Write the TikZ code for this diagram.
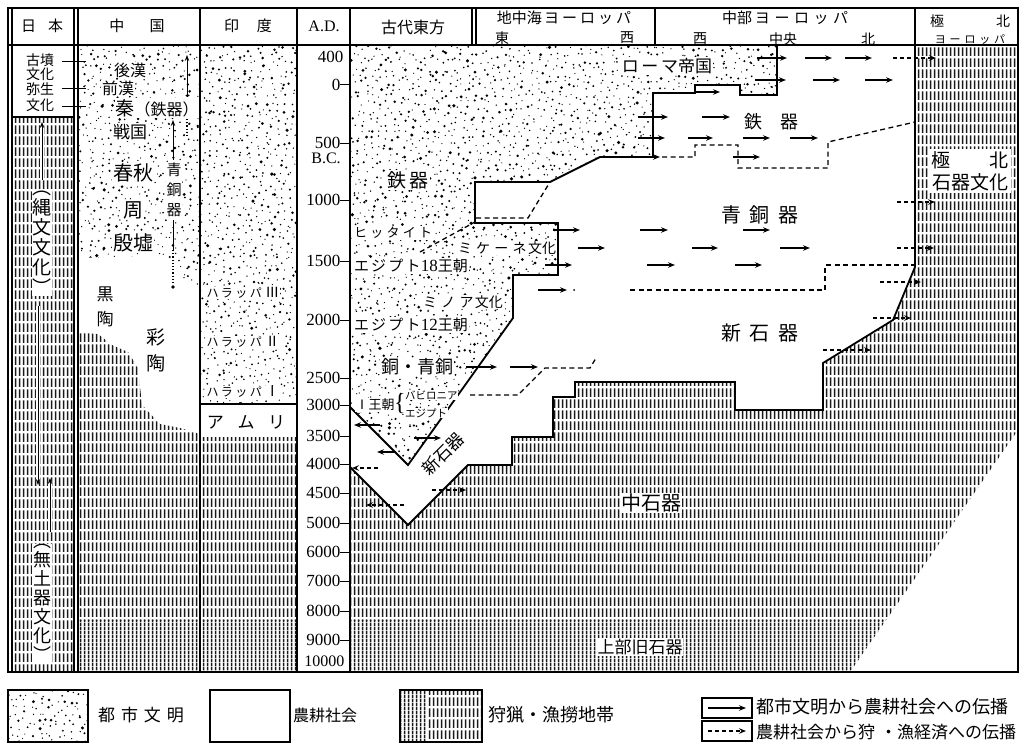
\documentclass[tikz,border=0pt]{standalone}
\usepackage{fontspec}
\setmainfont{Liberation Serif}
\newfontfamily\jp{Noto Sans CJK JP}
\usetikzlibrary{patterns,arrows.meta}
\pgfdeclarepatternformonly{jhatch}{\pgfqpoint{0pt}{0pt}}{\pgfqpoint{3.6pt}{11pt}}{\pgfqpoint{3.6pt}{11pt}}{%
  \pgfsetlinewidth{1.7pt}\pgfsetbuttcap
  \pgfpathmoveto{\pgfqpoint{1.8pt}{0pt}}\pgfpathlineto{\pgfqpoint{1.8pt}{9.3pt}}\pgfusepath{stroke}}
\pgfdeclarepatternformonly{vhatch}{\pgfqpoint{0pt}{0pt}}{\pgfqpoint{3.6pt}{4pt}}{\pgfqpoint{3.6pt}{4pt}}{%
  \pgfsetlinewidth{1.7pt}\pgfsetbuttcap
  \pgfpathmoveto{\pgfqpoint{1.8pt}{0pt}}\pgfpathlineto{\pgfqpoint{1.8pt}{4pt}}\pgfusepath{stroke}}
\newcommand\fsz[2]{\fontsize{#1}{#2}\selectfont}
\newcommand\stipple[4]{%
  \pgfmathtruncatemacro\stipNX{(#3-#1)/6.8}%
  \pgfmathtruncatemacro\stipNY{(#4-#2)/6.8}%
  \foreach \stipI in {0,...,\stipNX}{%
    \foreach \stipJ in {0,...,\stipNY}{%
      \pgfmathsetmacro\stipX{#1+6.8*\stipI+6.8*rnd}%
      \pgfmathsetmacro\stipY{#2+6.8*\stipJ+6.8*rnd}%
      \pgfmathsetmacro\stipR{0.6+1.25*rnd*rnd}%
      \fill (\stipX,\stipY) circle[radius=\stipR pt];}}}
\begin{document}
\begin{tikzpicture}[x=1pt,y=-1pt,
  jt/.style={font=\jp, inner sep=0.8pt},
  wt/.style={jt, fill=white},
  bd/.style={line width=1.8pt, line join=miter},
  dbd/.style={line width=1.3pt, dash pattern=on 5pt off 3.5pt},
  sp/.style={line width=1.2pt, -{Stealth[length=7pt,width=5.5pt,inset=2.5pt]}},
  dsp/.style={sp, dash pattern=on 4pt off 3pt},
  varr/.style={line width=1pt, -{Stealth[length=6pt,width=4.5pt,inset=2pt]}},
  halo/.style={preaction={draw=white, line width=4pt}},
  hp/.style={pattern color=black!90}]
\useasboundingbox (0,0) rectangle (1024,749);
\pgfmathsetseed{4321}

% ---------- hatched areas ----------
\fill[pattern=jhatch,hp] (12,117) rectangle (74,672);
\begin{scope}
  \clip (78,332) -- (98,334) -- (112,345) -- (128,352) -- (138,368) -- (142,405) -- (160,424) -- (180,428) -- (200,434) -- (200,672) -- (78,672) -- cycle;
  \fill[pattern=jhatch,hp] (70,320) rectangle (205,620);
  \fill[pattern=vhatch,hp] (70,620) rectangle (205,675);
\end{scope}
\fill[pattern=jhatch,hp] (200,437) rectangle (297,620);
\fill[pattern=vhatch,hp] (200,620) rectangle (297,672);
\begin{scope}
  \clip (350,467) -- (408,525) -- (468,465) -- (512,465) -- (512,437) -- (553,437) -- (553,397) -- (575,397) -- (575,382) -- (735,382) -- (735,410) -- (823,410) -- (823,363) -- (893,320) -- (915,267) -- (915,45) -- (1018,45) -- (1018,430) -- (850,672) -- (350,672) -- cycle;
  \fill[pattern=jhatch,hp] (340,40) rectangle (1020,620);
  \fill[pattern=vhatch,hp] (340,620) rectangle (1020,675);
\end{scope}

% ---------- stippled areas ----------
\begin{scope}
  \clip (79,45) -- (200,45) -- (200,292) -- (185,280) -- (172,262) -- (160,256) -- (79,258) -- cycle;
  \stipple{79}{45}{200}{292}
\end{scope}
\begin{scope}
  \clip (200,45) rectangle (297,404);
  \stipple{200}{45}{297}{404}
\end{scope}
\begin{scope}
  \clip (350,45) -- (777,45) -- (777,95) -- (740,95) -- (740,85) -- (695,85) -- (695,93) -- (653,93) -- (653,157) -- (600,157) -- (550,182) -- (475,182) -- (475,223) -- (558,223) -- (558,275) -- (513,275) -- (513,318) -- (408,465) -- (350,407) -- cycle;
  \stipple{350}{45}{777}{468}
\end{scope}

% ---------- frame and columns ----------
\draw[line width=2.2pt] (8,8) rectangle (1018,672);
\draw[line width=1.6pt] (8,45) -- (1018,45);
\draw[line width=1.1pt] (12,8) -- (12,672);
\draw[line width=1.4pt] (74,8) -- (74,672) (78,8) -- (78,672);
\draw[line width=1.4pt] (200,8) -- (200,672);
\draw[line width=1.4pt] (297,8) -- (297,672);
\draw[line width=1.4pt] (350,8) -- (350,672);
\draw[line width=1.2pt] (472,8) -- (472,45) (476,8) -- (476,45);
\draw[line width=1.4pt] (655,8) -- (655,45);
\draw[line width=1.4pt] (915,8) -- (915,45);
\draw[line width=1.4pt] (12,117) -- (74,117);
\draw[line width=1.4pt] (200,404) -- (297,404);

% ---------- region boundaries ----------
\draw[bd] (777,45) -- (777,95) -- (740,95) -- (740,85) -- (695,85) -- (695,93) -- (653,93) -- (653,157) -- (600,157) -- (550,182) -- (475,182) -- (475,223) -- (558,223) -- (558,275) -- (513,275) -- (513,318) -- (408,465) -- (350,407);
\draw[bd] (350,467) -- (408,525) -- (468,465) -- (512,465) -- (512,437) -- (553,437) -- (553,397) -- (575,397) -- (575,382) -- (735,382) -- (735,410) -- (823,410) -- (823,363) -- (893,320) -- (915,267) -- (915,45);

% dashed period boundaries
\draw[dbd] (420,252) -- (475,222);
\draw[dbd] (476,218) -- (528,218) -- (550,182);
\draw[dbd] (662,157) -- (695,157) -- (695,145) -- (738,145) -- (738,168) -- (828,168) -- (828,142) -- (915,122);
\draw[dbd] (630,290) -- (825,290) -- (825,265) -- (915,265);
\draw[dbd] (470,395) -- (518,395) -- (545,368) -- (590,368) -- (596,358);

% ---------- A.D. / B.C. scale ----------
\foreach \ty in {85,143,200,261,320,378,405,436,464,493,523,552,581,611,640}
  \draw[line width=1pt] (340,\ty) -- (350,\ty);
\foreach \ty/\tl in {85/0,143/500,200/1000,261/1500,320/2000,378/2500,405/3000,436/3500,464/4000,493/4500,523/5000,552/6000,581/7000,611/8000,640/9000}
  \node[anchor=east,font=\fsz{17}{17},inner sep=0.5pt] at (341,\ty) {\tl};
\node[anchor=east,font=\fsz{17}{17},inner sep=0.5pt] at (344,57) {400};
\node[anchor=east,font=\fsz{16}{16},inner sep=0.5pt] at (345,661) {10000};
\node[font=\fsz{16}{16},inner sep=0.5pt] at (326,158) {B.C.};

% ---------- header ----------
\node[jt,font=\jp\fsz{15}{15}] at (42,26) {日\hspace{0.8em}本};
\node[jt,font=\jp\fsz{15}{15}] at (137,26) {中\hspace{1.7em}国};
\node[jt,font=\jp\fsz{15}{15}] at (248,26) {印\hspace{1.2em}度};
\node[font=\fsz{16}{16}] at (324,26) {A.D.};
\node[jt,font=\jp\fsz{16}{16}] at (413,27) {古代東方};
\node[jt,font=\jp\fsz{15}{15}] at (564,18) {地中海\hspace{0.15em}ヨ\hspace{0.2em}ー\hspace{0.2em}ロ\hspace{0.2em}ッ\hspace{0.2em}パ};
\node[jt,font=\jp\fsz{14}{14}] at (502,38) {東};
\node[jt,font=\jp\fsz{14}{14}] at (627,38) {西};
\node[jt,font=\jp\fsz{15}{15}] at (785,18) {中部\hspace{0.2em}ヨ\hspace{0.3em}ー\hspace{0.3em}ロ\hspace{0.3em}ッ\hspace{0.3em}パ};
\node[jt,font=\jp\fsz{14}{14}] at (700,39) {西};
\node[jt,font=\jp\fsz{14}{14}] at (783,39) {中央};
\node[jt,font=\jp\fsz{14}{14}] at (868,39) {北};
\node[jt,font=\jp\fsz{14}{14}] at (937,21) {極};
\node[jt,font=\jp\fsz{14}{14}] at (1003,21) {北};
\node[jt,font=\jp\fsz{11}{11}] at (970,39) {ヨ\hspace{0.35em}ー\hspace{0.35em}ロ\hspace{0.35em}ッ\hspace{0.35em}パ};

% ---------- Japan ----------
\node[jt,font=\jp\fsz{14}{15}] at (40,60) {古墳};
\node[jt,font=\jp\fsz{14}{15}] at (40,74) {文化};
\node[jt,font=\jp\fsz{14}{15}] at (40,89) {弥生};
\node[jt,font=\jp\fsz{14}{15}] at (40,105) {文化};
\draw[line width=1pt] (62,62) -- (86,62) (62,89) -- (86,89) (62,107) -- (86,107);
\node[wt,font=\jp\fsz{19}{20},align=center] at (42,243) {︵\\縄\\文\\文\\化\\︶};
\node[wt,font=\jp\fsz{18}{19},align=center] at (42,603) {︵\\無\\土\\器\\文\\化\\︶};
\draw[varr,halo] (42,180) -- (42,122);
\draw[varr,halo] (38,306) -- (38,485);
\draw[varr,halo] (50,532) -- (50,478);

% ---------- China ----------
\node[wt,font=\jp\fsz{16}{16}] at (130,70) {後漢};
\node[wt,font=\jp\fsz{16}{16}] at (118,88) {前漢};
\node[wt,font=\jp] at (157,108) {{\fsz{19}{19}秦}{\fsz{16}{16}（鉄器）}};
\node[wt,font=\jp\fsz{17}{17}] at (130,132) {戦国};
\node[wt,font=\jp\fsz{20}{20}] at (133,173) {春秋};
\node[wt,font=\jp\fsz{20}{20}] at (133,210) {周};
\node[wt,font=\jp\fsz{20}{20}] at (133,243) {殷墟};
\node[wt,font=\jp\fsz{15}{20},align=center] at (174,190) {青\\銅\\器};
\node[wt,font=\jp\fsz{17}{25},align=center] at (105,307) {黒\\陶};
\node[wt,font=\jp\fsz{19}{26},align=center] at (156,350) {彩\\陶};
\draw[varr] (187,97) -- (187,55);
\draw[line width=1.2pt, dotted] (187,119) -- (187,136);
\draw[varr] (173,160) -- (173,120);
\draw[line width=1pt] (173,220) -- (173,250);
\draw[line width=1.2pt, dotted] (173,250) -- (173,284);
\fill (173,287) circle[radius=1.8pt];

% ---------- India ----------
\node[wt,font=\jp\fsz{12}{12}] at (243,293) {ハ\hspace{0.2em}ラ\hspace{0.2em}ッ\hspace{0.2em}パ\hspace{0.3em}{\fsz{14}{14}Ⅲ}};
\node[wt,font=\jp\fsz{12}{12}] at (243,342) {ハ\hspace{0.2em}ラ\hspace{0.2em}ッ\hspace{0.2em}パ\hspace{0.3em}{\fsz{14}{14}Ⅱ}};
\node[wt,font=\jp\fsz{12}{12}] at (243,392) {ハ\hspace{0.2em}ラ\hspace{0.2em}ッ\hspace{0.2em}パ\hspace{0.3em}{\fsz{14}{14}Ⅰ}};
\node[jt,font=\jp\fsz{17}{17}] at (246,422) {ア\hspace{0.8em}ム\hspace{0.8em}リ};

% ---------- main area texts ----------
\node[wt,font=\jp\fsz{17}{17}] at (667,66) {ロ\hspace{0.15em}ー\hspace{0.15em}マ帝国};
\node[wt,font=\jp\fsz{19}{19}] at (408,180) {鉄\hspace{0.2em}器};
\node[wt,font=\jp\fsz{13}{13},anchor=west] at (353,233) {ヒ\hspace{0.25em}ッ\hspace{0.25em}タ\hspace{0.25em}イ\hspace{0.25em}ト};
\node[wt,font=\jp\fsz{14}{14}] at (507,248) {ミ\hspace{0.3em}ケ\hspace{0.3em}ー\hspace{0.3em}ネ\hspace{0.1em}文化};
\node[wt,font=\jp\fsz{15}{15},anchor=west] at (353,266) {エ\hspace{0.15em}ジ\hspace{0.15em}プ\hspace{0.15em}ト{\fontspec{Liberation Serif}\fsz{17}{17}18}王朝};
\node[wt,font=\jp\fsz{14}{14}] at (463,302) {ミ\hspace{0.3em}ノ\hspace{0.3em}ア\hspace{0.1em}文化};
\node[wt,font=\jp\fsz{15}{15},anchor=west] at (353,325) {エ\hspace{0.15em}ジ\hspace{0.15em}プ\hspace{0.15em}ト{\fontspec{Liberation Serif}\fsz{17}{17}12}王朝};
\node[wt,font=\jp\fsz{18}{18}] at (417,367) {銅・青銅};
\node[wt,font=\jp\fsz{13}{13}] at (375,405) {Ⅰ王朝};
\node[wt,font=\fsz{24}{24},inner sep=0pt] at (400,404) {\{};
\node[wt,font=\jp\fsz{10.5}{10.5},anchor=west] at (404,395) {バビロニア};
\node[wt,font=\jp\fsz{10.5}{10.5},anchor=west] at (404,413) {エジプト};
\node[jt,font=\jp\fsz{18}{18}] at (771,122) {鉄\hspace{1em}器};
\node[jt,font=\jp\fsz{20}{20}] at (760,215) {青\hspace{0.45em}銅\hspace{0.45em}器};
\node[jt,font=\jp\fsz{20}{20}] at (760,333) {新\hspace{0.45em}石\hspace{0.45em}器};
\node[jt,font=\jp\fsz{17}{17},rotate=45,inner sep=0pt] at (443,454) {新石器};
\node[wt,font=\jp\fsz{20}{20}] at (651,503) {中石器};
\node[wt,font=\jp\fsz{17}{17}] at (640,647) {上部旧石器};
\node[wt,font=\jp\fsz{19}{22},align=center,inner sep=2pt] at (970,171) {極\hspace{2.1em}北\\石器文化};

% ---------- diffusion arrows ----------
\draw[sp] (757,58) -- (787,58);
\draw[sp] (805,58) -- (832,58);
\draw[sp] (845,58) -- (872,58);
\draw[dsp] (893,58) -- (936,58);
\draw[sp] (755,80) -- (786,80);
\draw[sp] (813,80) -- (840,80);
\draw[sp] (865,80) -- (893,80);
\draw[sp] (695,92) -- (720,92);
\draw[sp] (638,117) -- (668,117);
\draw[sp] (702,117) -- (730,117);
\draw[sp] (638,138) -- (665,138);
\draw[sp] (688,138) -- (713,138);
\draw[sp] (743,138) -- (770,138);
\draw[sp] (790,138) -- (818,138);
\draw[sp] (638,157) -- (660,157);
\draw[sp] (733,157) -- (760,157);
\draw[sp] (553,230) -- (580,230);
\draw[sp] (640,230) -- (668,230);
\draw[sp] (743,230) -- (770,230);
\draw[sp] (578,248) -- (605,248);
\draw[sp] (692,248) -- (718,248);
\draw[sp] (780,248) -- (810,248);
\draw[sp] (545,265) -- (572,265);
\draw[sp] (647,265) -- (675,265);
\draw[sp] (735,265) -- (762,265);
\draw[sp] (538,290) -- (567,290);
\fill (574,290) circle[radius=1pt];
\draw[sp] (466,367) -- (497,367);
\draw[sp] (510,367) -- (538,367);
\draw[dsp] (897,202) -- (935,202);
\draw[dsp] (897,248) -- (934,248);
\draw[dsp] (880,282) -- (921,282);
\draw[dsp] (873,318) -- (911,318);
\draw[dsp] (823,350) -- (871,350);
\draw[sp] (380,425) -- (354,425);
\draw[sp] (414,438) -- (441,438);
\draw[sp] (396,452) -- (377,452);
\draw[dsp] (378,468) -- (352,468);
\draw[dsp] (432,490) -- (466,490);
\draw[dsp] (404,505) -- (366,505);

% ---------- legend ----------
\begin{scope}
  \clip (8,690) rectangle (88,742);
  \stipple{8}{690}{88}{742}
\end{scope}
\draw[line width=1.5pt] (8,690) rectangle (88,742);
\node[jt,font=\jp\fsz{17}{17}] at (141,715) {都\hspace{0.35em}市\hspace{0.35em}文\hspace{0.35em}明};
\draw[line width=1.5pt] (210,690) rectangle (290,742);
\node[jt,font=\jp\fsz{16}{16}] at (325,715) {農耕社会};
\fill[pattern=vhatch,hp] (400,690) rectangle (427,742);
\fill[pattern=jhatch,hp] (427,690) rectangle (482,742);
\draw[line width=1.5pt] (400,690) rectangle (482,742);
\node[jt,font=\jp\fsz{18}{18},anchor=west] at (487,715) {狩猟・漁撈地帯};
\draw[line width=1.3pt] (702,698) rectangle (752,718);
\draw[sp] (708,708) -- (746,708);
\node[jt,font=\jp\fsz{18}{18},anchor=west] at (755,707) {都市文明から農耕社会への伝播};
\draw[line width=1.3pt] (702,721) rectangle (752,741);
\draw[dsp] (708,731) -- (746,731);
\node[jt,font=\jp\fsz{17}{17},anchor=west] at (755,732) {農耕社会から狩\hspace{0.3em}・漁経済への伝播};
\end{tikzpicture}
\end{document}
